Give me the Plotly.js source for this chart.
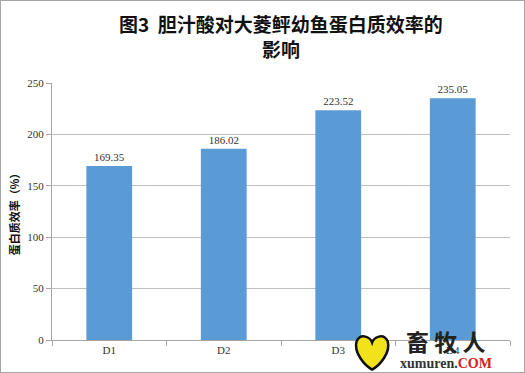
<!DOCTYPE html>
<html><head><meta charset="utf-8">
<script src="https://cdn.plot.ly/plotly-3.0.1.min.js"></script>
<style>
html,body{margin:0;padding:0;background:#fff;}
#wrap{width:523px;height:371px;border:1px solid #a6a6a6;position:relative;overflow:hidden;}
#chart{width:523px;height:371px;}
</style></head>
<body><div id="wrap"><div id="chart"></div></div>
<script>
var categories = ["D1","D2","D3","D4"];
var values = [169.35, 186.02, 223.52, 235.05];
var valueLabels = ["169.35","186.02","223.52","235.05"];
var yTicks = [0,50,100,150,200,250];
var titleText = "<b>图3  胆汁酸对大菱鲆幼鱼蛋白质效率的<br>影响</b>";
var yTitleText = "<b>蛋白质效率（%）</b>";

var trace = {
  type:"bar", x:categories, y:values,
  marker:{color:"#5b9bd5", line:{width:0}},
  text:valueLabels, textposition:"outside", cliponaxis:false,
  textfont:{family:"Liberation Serif, DejaVu Serif, serif", size:11, color:"#333"},
  hoverinfo:"none"
};
var layout = {
  width:523, height:371,
  margin:{l:51, r:14, t:82, b:32},
  paper_bgcolor:"#fff", plot_bgcolor:"#fff",
  bargap:0.6,
  showlegend:false,
  xaxis:{type:"category", showline:true, linecolor:"#a6a6a6", linewidth:1,
    ticks:"outside", tickson:"boundaries", ticklen:5, tickcolor:"#a6a6a6",
    tickfont:{family:"Liberation Serif, DejaVu Serif, serif", size:11, color:"#333"},
    showgrid:false, fixedrange:true},
  yaxis:{range:[0,250], tickvals:yTicks, showline:true, linecolor:"#a6a6a6", linewidth:1,
    ticks:"outside", ticklen:5, tickcolor:"#a6a6a6",
    showgrid:true, gridcolor:"#bfbfbf", gridwidth:1, zeroline:false,
    tickfont:{family:"Liberation Serif, DejaVu Serif, serif", size:11, color:"#333"},
    title:{text:yTitleText, standoff:5, font:{family:"Noto Sans CJK SC, sans-serif", size:11, color:"#111"}}},
  shapes:[
    {type:"path", xref:"paper", yref:"paper",
     path:"M 0.665 -0.005 C 0.675 0.03 0.695 0.01 0.699 -0.01 C 0.703 0.01 0.723 0.03 0.733 -0.005 C 0.74 -0.05 0.715 -0.1 0.699 -0.115 C 0.683 -0.1 0.658 -0.05 0.665 -0.005 Z",
     fillcolor:"#f2e21c", line:{color:"#111", width:2.5}}
  ],
  annotations:[
    {xref:"paper", yref:"paper", x:0.5, y:1.29, xanchor:"center", yanchor:"top", showarrow:false,
     text:titleText, font:{family:"Noto Sans CJK SC, sans-serif", size:19, color:"#111"}},
    {xref:"paper", yref:"paper", x:0.86, y:-0.005, xanchor:"center", yanchor:"middle", showarrow:false,
     text:"<b>畜 牧 人</b>", font:{family:"Noto Sans CJK SC, sans-serif", size:23, color:"#222"}},
    {xref:"paper", yref:"paper", x:0.86, y:-0.09, xanchor:"center", yanchor:"middle", showarrow:false,
     text:"<b>xumuren.<span style='color:#d62020'>COM</span></b>", font:{family:"Liberation Serif, serif", size:14, color:"#333"}}
  ]
};
Plotly.newPlot("chart",[trace],layout,{displayModeBar:false, staticPlot:true});
</script></body></html>
